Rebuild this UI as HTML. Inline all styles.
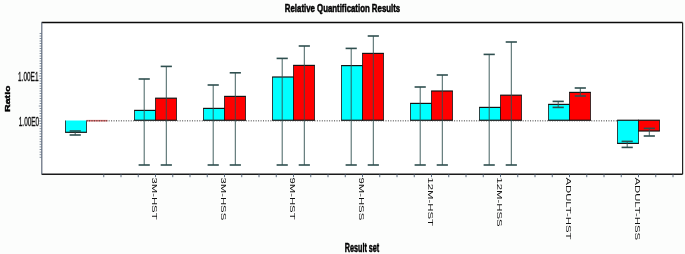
<!DOCTYPE html>
<html><head><meta charset="utf-8"><style>
html,body{margin:0;padding:0;background:#fcfdfc;}
svg{display:block;}
svg{will-change:transform;}
</style></head><body>
<svg width="685" height="254" viewBox="0 0 685 254">
<rect x="0" y="0" width="685" height="254" fill="#fcfdfc"/>
<rect x="41.6" y="22.5" width="641.0" height="151.7" fill="#ffffff"/>
<rect x="65.50" y="120.50" width="21.00" height="11.80" fill="#00ffff"/>
<line x1="65.10" y1="132.30" x2="86.90" y2="132.30" stroke="#141414" stroke-width="1.2"/>
<line x1="65.50" y1="120.50" x2="65.50" y2="132.30" stroke="#141414" stroke-width="0.8"/>
<line x1="86.50" y1="120.50" x2="86.50" y2="132.30" stroke="#141414" stroke-width="0.8"/>
<rect x="86.50" y="119.9" width="21" height="1.6" fill="#d86a6a"/>
<rect x="134.50" y="110.40" width="21.00" height="9.85" fill="#00ffff"/>
<line x1="134.10" y1="110.40" x2="155.90" y2="110.40" stroke="#141414" stroke-width="1.2"/>
<line x1="134.10" y1="120.25" x2="155.90" y2="120.25" stroke="#141414" stroke-width="1.2"/>
<line x1="134.50" y1="110.40" x2="134.50" y2="120.25" stroke="#141414" stroke-width="0.8"/>
<line x1="155.50" y1="110.40" x2="155.50" y2="120.25" stroke="#141414" stroke-width="0.8"/>
<rect x="155.50" y="98.20" width="21.00" height="22.05" fill="#ff0000"/>
<line x1="155.10" y1="98.20" x2="176.90" y2="98.20" stroke="#141414" stroke-width="1.2"/>
<line x1="155.10" y1="120.25" x2="176.90" y2="120.25" stroke="#141414" stroke-width="1.2"/>
<line x1="155.50" y1="98.20" x2="155.50" y2="120.25" stroke="#141414" stroke-width="0.8"/>
<line x1="176.50" y1="98.20" x2="176.50" y2="120.25" stroke="#141414" stroke-width="0.8"/>
<rect x="203.50" y="108.40" width="21.00" height="11.85" fill="#00ffff"/>
<line x1="203.10" y1="108.40" x2="224.90" y2="108.40" stroke="#141414" stroke-width="1.2"/>
<line x1="203.10" y1="120.25" x2="224.90" y2="120.25" stroke="#141414" stroke-width="1.2"/>
<line x1="203.50" y1="108.40" x2="203.50" y2="120.25" stroke="#141414" stroke-width="0.8"/>
<line x1="224.50" y1="108.40" x2="224.50" y2="120.25" stroke="#141414" stroke-width="0.8"/>
<rect x="224.50" y="96.40" width="21.00" height="23.85" fill="#ff0000"/>
<line x1="224.10" y1="96.40" x2="245.90" y2="96.40" stroke="#141414" stroke-width="1.2"/>
<line x1="224.10" y1="120.25" x2="245.90" y2="120.25" stroke="#141414" stroke-width="1.2"/>
<line x1="224.50" y1="96.40" x2="224.50" y2="120.25" stroke="#141414" stroke-width="0.8"/>
<line x1="245.50" y1="96.40" x2="245.50" y2="120.25" stroke="#141414" stroke-width="0.8"/>
<rect x="272.50" y="77.00" width="21.00" height="43.25" fill="#00ffff"/>
<line x1="272.10" y1="77.00" x2="293.90" y2="77.00" stroke="#141414" stroke-width="1.2"/>
<line x1="272.10" y1="120.25" x2="293.90" y2="120.25" stroke="#141414" stroke-width="1.2"/>
<line x1="272.50" y1="77.00" x2="272.50" y2="120.25" stroke="#141414" stroke-width="0.8"/>
<line x1="293.50" y1="77.00" x2="293.50" y2="120.25" stroke="#141414" stroke-width="0.8"/>
<rect x="293.50" y="65.40" width="21.00" height="54.85" fill="#ff0000"/>
<line x1="293.10" y1="65.40" x2="314.90" y2="65.40" stroke="#141414" stroke-width="1.2"/>
<line x1="293.10" y1="120.25" x2="314.90" y2="120.25" stroke="#141414" stroke-width="1.2"/>
<line x1="293.50" y1="65.40" x2="293.50" y2="120.25" stroke="#141414" stroke-width="0.8"/>
<line x1="314.50" y1="65.40" x2="314.50" y2="120.25" stroke="#141414" stroke-width="0.8"/>
<rect x="341.50" y="65.60" width="21.00" height="54.65" fill="#00ffff"/>
<line x1="341.10" y1="65.60" x2="362.90" y2="65.60" stroke="#141414" stroke-width="1.2"/>
<line x1="341.10" y1="120.25" x2="362.90" y2="120.25" stroke="#141414" stroke-width="1.2"/>
<line x1="341.50" y1="65.60" x2="341.50" y2="120.25" stroke="#141414" stroke-width="0.8"/>
<line x1="362.50" y1="65.60" x2="362.50" y2="120.25" stroke="#141414" stroke-width="0.8"/>
<rect x="362.50" y="53.40" width="21.00" height="66.85" fill="#ff0000"/>
<line x1="362.10" y1="53.40" x2="383.90" y2="53.40" stroke="#141414" stroke-width="1.2"/>
<line x1="362.10" y1="120.25" x2="383.90" y2="120.25" stroke="#141414" stroke-width="1.2"/>
<line x1="362.50" y1="53.40" x2="362.50" y2="120.25" stroke="#141414" stroke-width="0.8"/>
<line x1="383.50" y1="53.40" x2="383.50" y2="120.25" stroke="#141414" stroke-width="0.8"/>
<rect x="410.50" y="103.40" width="21.00" height="16.85" fill="#00ffff"/>
<line x1="410.10" y1="103.40" x2="431.90" y2="103.40" stroke="#141414" stroke-width="1.2"/>
<line x1="410.10" y1="120.25" x2="431.90" y2="120.25" stroke="#141414" stroke-width="1.2"/>
<line x1="410.50" y1="103.40" x2="410.50" y2="120.25" stroke="#141414" stroke-width="0.8"/>
<line x1="431.50" y1="103.40" x2="431.50" y2="120.25" stroke="#141414" stroke-width="0.8"/>
<rect x="431.50" y="91.00" width="21.00" height="29.25" fill="#ff0000"/>
<line x1="431.10" y1="91.00" x2="452.90" y2="91.00" stroke="#141414" stroke-width="1.2"/>
<line x1="431.10" y1="120.25" x2="452.90" y2="120.25" stroke="#141414" stroke-width="1.2"/>
<line x1="431.50" y1="91.00" x2="431.50" y2="120.25" stroke="#141414" stroke-width="0.8"/>
<line x1="452.50" y1="91.00" x2="452.50" y2="120.25" stroke="#141414" stroke-width="0.8"/>
<rect x="479.50" y="107.40" width="21.00" height="12.85" fill="#00ffff"/>
<line x1="479.10" y1="107.40" x2="500.90" y2="107.40" stroke="#141414" stroke-width="1.2"/>
<line x1="479.10" y1="120.25" x2="500.90" y2="120.25" stroke="#141414" stroke-width="1.2"/>
<line x1="479.50" y1="107.40" x2="479.50" y2="120.25" stroke="#141414" stroke-width="0.8"/>
<line x1="500.50" y1="107.40" x2="500.50" y2="120.25" stroke="#141414" stroke-width="0.8"/>
<rect x="500.50" y="95.20" width="21.00" height="25.05" fill="#ff0000"/>
<line x1="500.10" y1="95.20" x2="521.90" y2="95.20" stroke="#141414" stroke-width="1.2"/>
<line x1="500.10" y1="120.25" x2="521.90" y2="120.25" stroke="#141414" stroke-width="1.2"/>
<line x1="500.50" y1="95.20" x2="500.50" y2="120.25" stroke="#141414" stroke-width="0.8"/>
<line x1="521.50" y1="95.20" x2="521.50" y2="120.25" stroke="#141414" stroke-width="0.8"/>
<rect x="548.50" y="104.40" width="21.00" height="15.85" fill="#00ffff"/>
<line x1="548.10" y1="104.40" x2="569.90" y2="104.40" stroke="#141414" stroke-width="1.2"/>
<line x1="548.10" y1="120.25" x2="569.90" y2="120.25" stroke="#141414" stroke-width="1.2"/>
<line x1="548.50" y1="104.40" x2="548.50" y2="120.25" stroke="#141414" stroke-width="0.8"/>
<line x1="569.50" y1="104.40" x2="569.50" y2="120.25" stroke="#141414" stroke-width="0.8"/>
<rect x="569.50" y="92.40" width="21.00" height="27.85" fill="#ff0000"/>
<line x1="569.10" y1="92.40" x2="590.90" y2="92.40" stroke="#141414" stroke-width="1.2"/>
<line x1="569.10" y1="120.25" x2="590.90" y2="120.25" stroke="#141414" stroke-width="1.2"/>
<line x1="569.50" y1="92.40" x2="569.50" y2="120.25" stroke="#141414" stroke-width="0.8"/>
<line x1="590.50" y1="92.40" x2="590.50" y2="120.25" stroke="#141414" stroke-width="0.8"/>
<rect x="617.50" y="120.25" width="21.00" height="23.15" fill="#00ffff"/>
<line x1="617.10" y1="120.25" x2="638.90" y2="120.25" stroke="#141414" stroke-width="1.2"/>
<line x1="617.10" y1="143.40" x2="638.90" y2="143.40" stroke="#141414" stroke-width="1.2"/>
<line x1="617.50" y1="120.25" x2="617.50" y2="143.40" stroke="#141414" stroke-width="0.8"/>
<line x1="638.50" y1="120.25" x2="638.50" y2="143.40" stroke="#141414" stroke-width="0.8"/>
<rect x="638.50" y="120.25" width="21.00" height="10.75" fill="#ff0000"/>
<line x1="638.10" y1="120.25" x2="659.90" y2="120.25" stroke="#141414" stroke-width="1.2"/>
<line x1="638.10" y1="131.00" x2="659.90" y2="131.00" stroke="#141414" stroke-width="1.2"/>
<line x1="638.50" y1="120.25" x2="638.50" y2="131.00" stroke="#141414" stroke-width="0.8"/>
<line x1="659.50" y1="120.25" x2="659.50" y2="131.00" stroke="#141414" stroke-width="0.8"/>
<line x1="86.6" y1="120.85" x2="617" y2="120.85" stroke="#333" stroke-width="1" stroke-dasharray="1 1.45"/>
<line x1="75.20" y1="131" x2="75.20" y2="135" stroke="#2f4f4f" stroke-width="0.9"/>
<line x1="69.60" y1="131" x2="80.80" y2="131" stroke="#2f4f4f" stroke-width="1.6"/>
<line x1="69.60" y1="135" x2="80.80" y2="135" stroke="#2f4f4f" stroke-width="1.6"/>
<line x1="144.20" y1="79" x2="144.20" y2="165" stroke="#2f4f4f" stroke-width="0.9"/>
<line x1="138.60" y1="79" x2="149.80" y2="79" stroke="#2f4f4f" stroke-width="1.6"/>
<line x1="138.60" y1="165" x2="149.80" y2="165" stroke="#2f4f4f" stroke-width="1.6"/>
<line x1="166.30" y1="66.4" x2="166.30" y2="165" stroke="#2f4f4f" stroke-width="0.9"/>
<line x1="160.70" y1="66.4" x2="171.90" y2="66.4" stroke="#2f4f4f" stroke-width="1.6"/>
<line x1="160.70" y1="165" x2="171.90" y2="165" stroke="#2f4f4f" stroke-width="1.6"/>
<line x1="213.20" y1="85" x2="213.20" y2="165" stroke="#2f4f4f" stroke-width="0.9"/>
<line x1="207.60" y1="85" x2="218.80" y2="85" stroke="#2f4f4f" stroke-width="1.6"/>
<line x1="207.60" y1="165" x2="218.80" y2="165" stroke="#2f4f4f" stroke-width="1.6"/>
<line x1="235.30" y1="72.8" x2="235.30" y2="165" stroke="#2f4f4f" stroke-width="0.9"/>
<line x1="229.70" y1="72.8" x2="240.90" y2="72.8" stroke="#2f4f4f" stroke-width="1.6"/>
<line x1="229.70" y1="165" x2="240.90" y2="165" stroke="#2f4f4f" stroke-width="1.6"/>
<line x1="282.20" y1="58.4" x2="282.20" y2="165" stroke="#2f4f4f" stroke-width="0.9"/>
<line x1="276.60" y1="58.4" x2="287.80" y2="58.4" stroke="#2f4f4f" stroke-width="1.6"/>
<line x1="276.60" y1="165" x2="287.80" y2="165" stroke="#2f4f4f" stroke-width="1.6"/>
<line x1="304.30" y1="46" x2="304.30" y2="165" stroke="#2f4f4f" stroke-width="0.9"/>
<line x1="298.70" y1="46" x2="309.90" y2="46" stroke="#2f4f4f" stroke-width="1.6"/>
<line x1="298.70" y1="165" x2="309.90" y2="165" stroke="#2f4f4f" stroke-width="1.6"/>
<line x1="351.20" y1="48.4" x2="351.20" y2="165" stroke="#2f4f4f" stroke-width="0.9"/>
<line x1="345.60" y1="48.4" x2="356.80" y2="48.4" stroke="#2f4f4f" stroke-width="1.6"/>
<line x1="345.60" y1="165" x2="356.80" y2="165" stroke="#2f4f4f" stroke-width="1.6"/>
<line x1="373.30" y1="36" x2="373.30" y2="165" stroke="#2f4f4f" stroke-width="0.9"/>
<line x1="367.70" y1="36" x2="378.90" y2="36" stroke="#2f4f4f" stroke-width="1.6"/>
<line x1="367.70" y1="165" x2="378.90" y2="165" stroke="#2f4f4f" stroke-width="1.6"/>
<line x1="420.20" y1="87" x2="420.20" y2="165" stroke="#2f4f4f" stroke-width="0.9"/>
<line x1="414.60" y1="87" x2="425.80" y2="87" stroke="#2f4f4f" stroke-width="1.6"/>
<line x1="414.60" y1="165" x2="425.80" y2="165" stroke="#2f4f4f" stroke-width="1.6"/>
<line x1="442.30" y1="75" x2="442.30" y2="165" stroke="#2f4f4f" stroke-width="0.9"/>
<line x1="436.70" y1="75" x2="447.90" y2="75" stroke="#2f4f4f" stroke-width="1.6"/>
<line x1="436.70" y1="165" x2="447.90" y2="165" stroke="#2f4f4f" stroke-width="1.6"/>
<line x1="489.20" y1="54.4" x2="489.20" y2="165" stroke="#2f4f4f" stroke-width="0.9"/>
<line x1="483.60" y1="54.4" x2="494.80" y2="54.4" stroke="#2f4f4f" stroke-width="1.6"/>
<line x1="483.60" y1="165" x2="494.80" y2="165" stroke="#2f4f4f" stroke-width="1.6"/>
<line x1="511.30" y1="42" x2="511.30" y2="165" stroke="#2f4f4f" stroke-width="0.9"/>
<line x1="505.70" y1="42" x2="516.90" y2="42" stroke="#2f4f4f" stroke-width="1.6"/>
<line x1="505.70" y1="165" x2="516.90" y2="165" stroke="#2f4f4f" stroke-width="1.6"/>
<line x1="558.20" y1="101.4" x2="558.20" y2="107.4" stroke="#2f4f4f" stroke-width="0.9"/>
<line x1="552.60" y1="101.4" x2="563.80" y2="101.4" stroke="#2f4f4f" stroke-width="1.6"/>
<line x1="552.60" y1="107.4" x2="563.80" y2="107.4" stroke="#2f4f4f" stroke-width="1.6"/>
<line x1="580.30" y1="88" x2="580.30" y2="96" stroke="#2f4f4f" stroke-width="0.9"/>
<line x1="574.70" y1="88" x2="585.90" y2="88" stroke="#2f4f4f" stroke-width="1.6"/>
<line x1="574.70" y1="96" x2="585.90" y2="96" stroke="#2f4f4f" stroke-width="1.6"/>
<line x1="627.20" y1="141.4" x2="627.20" y2="147.4" stroke="#2f4f4f" stroke-width="0.9"/>
<line x1="621.60" y1="141.4" x2="632.80" y2="141.4" stroke="#2f4f4f" stroke-width="1.6"/>
<line x1="621.60" y1="147.4" x2="632.80" y2="147.4" stroke="#2f4f4f" stroke-width="1.6"/>
<line x1="649.30" y1="128.4" x2="649.30" y2="136" stroke="#2f4f4f" stroke-width="0.9"/>
<line x1="643.70" y1="128.4" x2="654.90" y2="128.4" stroke="#2f4f4f" stroke-width="1.6"/>
<line x1="643.70" y1="136" x2="654.90" y2="136" stroke="#2f4f4f" stroke-width="1.6"/>
<line x1="41.6" y1="22.5" x2="682.6" y2="22.5" stroke="#0a0a0a" stroke-width="1.6"/>
<line x1="682.6" y1="22.5" x2="682.6" y2="174.2" stroke="#222" stroke-width="1.2"/>
<line x1="41.6" y1="174.2" x2="682.6" y2="174.2" stroke="#1a1a1a" stroke-width="1.5"/>
<line x1="41.800000000000004" y1="22.5" x2="41.800000000000004" y2="174.2" stroke="#5f6a7a" stroke-width="1.2"/>
<line x1="103.75" y1="174.2" x2="103.75" y2="177.2" stroke="#4a5a70" stroke-width="0.9"/>
<line x1="121.00" y1="174.2" x2="121.00" y2="177.2" stroke="#4a5a70" stroke-width="0.9"/>
<line x1="138.25" y1="174.2" x2="138.25" y2="177.2" stroke="#4a5a70" stroke-width="0.9"/>
<line x1="155.50" y1="174.2" x2="155.50" y2="177.2" stroke="#4a5a70" stroke-width="0.9"/>
<line x1="172.75" y1="174.2" x2="172.75" y2="177.2" stroke="#4a5a70" stroke-width="0.9"/>
<line x1="190.00" y1="174.2" x2="190.00" y2="177.2" stroke="#4a5a70" stroke-width="0.9"/>
<line x1="207.25" y1="174.2" x2="207.25" y2="177.2" stroke="#4a5a70" stroke-width="0.9"/>
<line x1="224.50" y1="174.2" x2="224.50" y2="177.2" stroke="#4a5a70" stroke-width="0.9"/>
<line x1="241.75" y1="174.2" x2="241.75" y2="177.2" stroke="#4a5a70" stroke-width="0.9"/>
<line x1="259.00" y1="174.2" x2="259.00" y2="177.2" stroke="#4a5a70" stroke-width="0.9"/>
<line x1="276.25" y1="174.2" x2="276.25" y2="177.2" stroke="#4a5a70" stroke-width="0.9"/>
<line x1="293.50" y1="174.2" x2="293.50" y2="177.2" stroke="#4a5a70" stroke-width="0.9"/>
<line x1="310.75" y1="174.2" x2="310.75" y2="177.2" stroke="#4a5a70" stroke-width="0.9"/>
<line x1="328.00" y1="174.2" x2="328.00" y2="177.2" stroke="#4a5a70" stroke-width="0.9"/>
<line x1="345.25" y1="174.2" x2="345.25" y2="177.2" stroke="#4a5a70" stroke-width="0.9"/>
<line x1="362.50" y1="174.2" x2="362.50" y2="177.2" stroke="#4a5a70" stroke-width="0.9"/>
<line x1="379.75" y1="174.2" x2="379.75" y2="177.2" stroke="#4a5a70" stroke-width="0.9"/>
<line x1="397.00" y1="174.2" x2="397.00" y2="177.2" stroke="#4a5a70" stroke-width="0.9"/>
<line x1="414.25" y1="174.2" x2="414.25" y2="177.2" stroke="#4a5a70" stroke-width="0.9"/>
<line x1="431.50" y1="174.2" x2="431.50" y2="177.2" stroke="#4a5a70" stroke-width="0.9"/>
<line x1="448.75" y1="174.2" x2="448.75" y2="177.2" stroke="#4a5a70" stroke-width="0.9"/>
<line x1="466.00" y1="174.2" x2="466.00" y2="177.2" stroke="#4a5a70" stroke-width="0.9"/>
<line x1="483.25" y1="174.2" x2="483.25" y2="177.2" stroke="#4a5a70" stroke-width="0.9"/>
<line x1="500.50" y1="174.2" x2="500.50" y2="177.2" stroke="#4a5a70" stroke-width="0.9"/>
<line x1="517.75" y1="174.2" x2="517.75" y2="177.2" stroke="#4a5a70" stroke-width="0.9"/>
<line x1="535.00" y1="174.2" x2="535.00" y2="177.2" stroke="#4a5a70" stroke-width="0.9"/>
<line x1="552.25" y1="174.2" x2="552.25" y2="177.2" stroke="#4a5a70" stroke-width="0.9"/>
<line x1="569.50" y1="174.2" x2="569.50" y2="177.2" stroke="#4a5a70" stroke-width="0.9"/>
<line x1="586.75" y1="174.2" x2="586.75" y2="177.2" stroke="#4a5a70" stroke-width="0.9"/>
<line x1="604.00" y1="174.2" x2="604.00" y2="177.2" stroke="#4a5a70" stroke-width="0.9"/>
<line x1="621.25" y1="174.2" x2="621.25" y2="177.2" stroke="#4a5a70" stroke-width="0.9"/>
<line x1="638.50" y1="174.2" x2="638.50" y2="177.2" stroke="#4a5a70" stroke-width="0.9"/>
<line x1="655.75" y1="174.2" x2="655.75" y2="177.2" stroke="#4a5a70" stroke-width="0.9"/>
<line x1="673.00" y1="174.2" x2="673.00" y2="177.2" stroke="#4a5a70" stroke-width="0.9"/>
<line x1="38.80" y1="121.00" x2="41.6" y2="121.00" stroke="#5a6a80" stroke-width="0.75"/>
<line x1="39.60" y1="118.50" x2="41.6" y2="118.50" stroke="#5a6a80" stroke-width="0.75"/>
<line x1="39.60" y1="116.00" x2="41.6" y2="116.00" stroke="#5a6a80" stroke-width="0.75"/>
<line x1="39.60" y1="113.50" x2="41.6" y2="113.50" stroke="#5a6a80" stroke-width="0.75"/>
<line x1="39.60" y1="111.00" x2="41.6" y2="111.00" stroke="#5a6a80" stroke-width="0.75"/>
<line x1="39.60" y1="108.50" x2="41.6" y2="108.50" stroke="#5a6a80" stroke-width="0.75"/>
<line x1="38.80" y1="106.00" x2="41.6" y2="106.00" stroke="#5a6a80" stroke-width="0.75"/>
<line x1="39.60" y1="103.50" x2="41.6" y2="103.50" stroke="#5a6a80" stroke-width="0.75"/>
<line x1="39.60" y1="101.00" x2="41.6" y2="101.00" stroke="#5a6a80" stroke-width="0.75"/>
<line x1="39.60" y1="98.50" x2="41.6" y2="98.50" stroke="#5a6a80" stroke-width="0.75"/>
<line x1="39.60" y1="96.00" x2="41.6" y2="96.00" stroke="#5a6a80" stroke-width="0.75"/>
<line x1="39.60" y1="93.50" x2="41.6" y2="93.50" stroke="#5a6a80" stroke-width="0.75"/>
<line x1="39.60" y1="91.00" x2="41.6" y2="91.00" stroke="#5a6a80" stroke-width="0.75"/>
<line x1="39.60" y1="88.50" x2="41.6" y2="88.50" stroke="#5a6a80" stroke-width="0.75"/>
<line x1="39.60" y1="86.00" x2="41.6" y2="86.00" stroke="#5a6a80" stroke-width="0.75"/>
<line x1="39.60" y1="83.50" x2="41.6" y2="83.50" stroke="#5a6a80" stroke-width="0.75"/>
<line x1="39.60" y1="81.00" x2="41.6" y2="81.00" stroke="#5a6a80" stroke-width="0.75"/>
<line x1="39.60" y1="78.50" x2="41.6" y2="78.50" stroke="#5a6a80" stroke-width="0.75"/>
<line x1="38.80" y1="76.00" x2="41.6" y2="76.00" stroke="#5a6a80" stroke-width="0.75"/>
<line x1="39.60" y1="73.50" x2="41.6" y2="73.50" stroke="#5a6a80" stroke-width="0.75"/>
<line x1="39.60" y1="71.00" x2="41.6" y2="71.00" stroke="#5a6a80" stroke-width="0.75"/>
<line x1="39.60" y1="68.50" x2="41.6" y2="68.50" stroke="#5a6a80" stroke-width="0.75"/>
<line x1="39.60" y1="66.00" x2="41.6" y2="66.00" stroke="#5a6a80" stroke-width="0.75"/>
<line x1="39.60" y1="63.50" x2="41.6" y2="63.50" stroke="#5a6a80" stroke-width="0.75"/>
<line x1="39.60" y1="61.00" x2="41.6" y2="61.00" stroke="#5a6a80" stroke-width="0.75"/>
<line x1="39.60" y1="58.50" x2="41.6" y2="58.50" stroke="#5a6a80" stroke-width="0.75"/>
<line x1="39.60" y1="56.00" x2="41.6" y2="56.00" stroke="#5a6a80" stroke-width="0.75"/>
<line x1="39.60" y1="53.50" x2="41.6" y2="53.50" stroke="#5a6a80" stroke-width="0.75"/>
<line x1="39.60" y1="51.00" x2="41.6" y2="51.00" stroke="#5a6a80" stroke-width="0.75"/>
<line x1="39.60" y1="48.50" x2="41.6" y2="48.50" stroke="#5a6a80" stroke-width="0.75"/>
<line x1="39.60" y1="46.00" x2="41.6" y2="46.00" stroke="#5a6a80" stroke-width="0.75"/>
<line x1="39.60" y1="43.50" x2="41.6" y2="43.50" stroke="#5a6a80" stroke-width="0.75"/>
<line x1="39.60" y1="41.00" x2="41.6" y2="41.00" stroke="#5a6a80" stroke-width="0.75"/>
<line x1="39.60" y1="38.50" x2="41.6" y2="38.50" stroke="#5a6a80" stroke-width="0.75"/>
<line x1="39.60" y1="36.00" x2="41.6" y2="36.00" stroke="#5a6a80" stroke-width="0.75"/>
<line x1="39.60" y1="33.50" x2="41.6" y2="33.50" stroke="#5a6a80" stroke-width="0.75"/>
<line x1="39.60" y1="123.50" x2="41.6" y2="123.50" stroke="#5a6a80" stroke-width="0.75"/>
<line x1="39.60" y1="126.10" x2="41.6" y2="126.10" stroke="#5a6a80" stroke-width="0.75"/>
<line x1="39.60" y1="128.70" x2="41.6" y2="128.70" stroke="#5a6a80" stroke-width="0.75"/>
<line x1="39.60" y1="131.30" x2="41.6" y2="131.30" stroke="#5a6a80" stroke-width="0.75"/>
<line x1="39.60" y1="133.90" x2="41.6" y2="133.90" stroke="#5a6a80" stroke-width="0.75"/>
<line x1="39.60" y1="136.50" x2="41.6" y2="136.50" stroke="#5a6a80" stroke-width="0.75"/>
<line x1="39.60" y1="139.10" x2="41.6" y2="139.10" stroke="#5a6a80" stroke-width="0.75"/>
<line x1="39.60" y1="141.70" x2="41.6" y2="141.70" stroke="#5a6a80" stroke-width="0.75"/>
<line x1="39.60" y1="144.30" x2="41.6" y2="144.30" stroke="#5a6a80" stroke-width="0.75"/>
<line x1="39.60" y1="146.90" x2="41.6" y2="146.90" stroke="#5a6a80" stroke-width="0.75"/>
<line x1="39.60" y1="149.50" x2="41.6" y2="149.50" stroke="#5a6a80" stroke-width="0.75"/>
<line x1="39.60" y1="152.10" x2="41.6" y2="152.10" stroke="#5a6a80" stroke-width="0.75"/>
<line x1="39.60" y1="154.70" x2="41.6" y2="154.70" stroke="#5a6a80" stroke-width="0.75"/>
<line x1="39.60" y1="157.30" x2="41.6" y2="157.30" stroke="#5a6a80" stroke-width="0.75"/>
<text transform="translate(342.5,12) scale(0.7,1)" font-family="Liberation Sans, sans-serif" font-size="11.2" font-weight="bold" text-anchor="middle" fill="#000" stroke="#000" stroke-width="0.5">Relative Quantification Results</text>
<text transform="translate(362,251.6) scale(0.572,1)" font-family="Liberation Sans, sans-serif" font-size="12.6" font-weight="bold" text-anchor="middle" fill="#000" stroke="#000" stroke-width="0.5">Result set</text>
<text transform="translate(38.5,80.6) scale(0.52,1)" font-family="Liberation Sans, sans-serif" font-size="12.4" font-weight="normal" text-anchor="end" fill="#111" stroke="#111" stroke-width="0.35">1.00E1</text>
<text transform="translate(39.2,125.9) scale(0.52,1)" font-family="Liberation Sans, sans-serif" font-size="12.4" font-weight="normal" text-anchor="end" fill="#111" stroke="#111" stroke-width="0.35">1.00E0</text>
<text transform="translate(9.9,98.7) scale(0.76,1) rotate(-90)" font-family="Liberation Sans, sans-serif" font-size="10.6" font-weight="bold" text-anchor="middle" fill="#000" stroke="#000" stroke-width="0.5">Ratio</text>
<text transform="translate(151.90,177.4) scale(0.70,1) rotate(90)" font-family="Liberation Sans, sans-serif" font-size="11.35" fill="#111">3M-HST</text>
<text transform="translate(220.90,177.4) scale(0.70,1) rotate(90)" font-family="Liberation Sans, sans-serif" font-size="11.35" fill="#111">3M-HSS</text>
<text transform="translate(289.90,177.4) scale(0.70,1) rotate(90)" font-family="Liberation Sans, sans-serif" font-size="11.35" fill="#111">9M-HST</text>
<text transform="translate(358.90,177.4) scale(0.70,1) rotate(90)" font-family="Liberation Sans, sans-serif" font-size="11.35" fill="#111">9M-HSS</text>
<text transform="translate(427.90,177.4) scale(0.70,1) rotate(90)" font-family="Liberation Sans, sans-serif" font-size="11.35" fill="#111">12M-HST</text>
<text transform="translate(496.90,177.4) scale(0.70,1) rotate(90)" font-family="Liberation Sans, sans-serif" font-size="11.35" fill="#111">12M-HSS</text>
<text transform="translate(565.90,177.4) scale(0.70,1) rotate(90)" font-family="Liberation Sans, sans-serif" font-size="11.35" fill="#111">ADULT-HST</text>
<text transform="translate(634.90,177.4) scale(0.70,1) rotate(90)" font-family="Liberation Sans, sans-serif" font-size="11.35" fill="#111">ADULT-HSS</text>
</svg>
</body></html>
